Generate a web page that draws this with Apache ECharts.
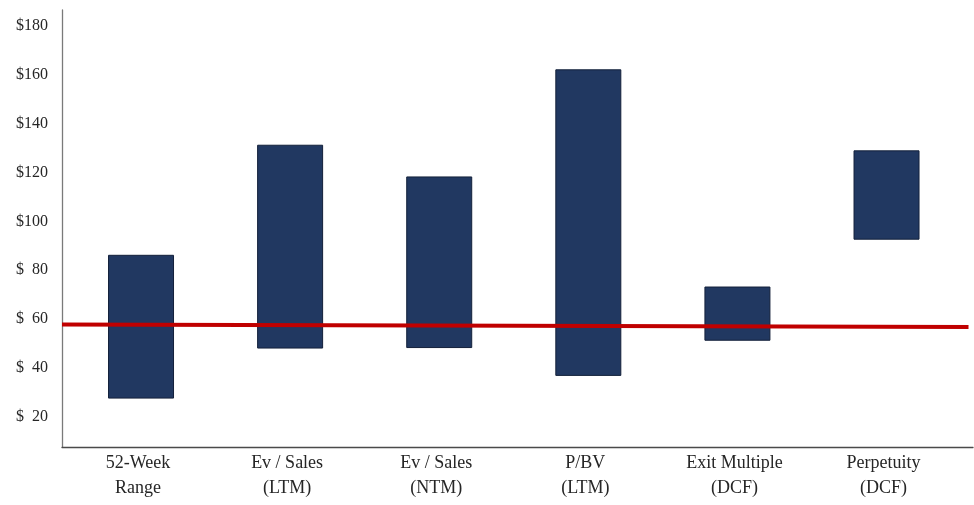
<!DOCTYPE html>
<html>
<head>
<meta charset="utf-8">
<script src="https://cdn.jsdelivr.net/npm/echarts@6/dist/echarts.min.js"></script>
<style>
  html, body { margin: 0; padding: 0; background: #ffffff; }
  #chart { width: 974px; height: 505px; }
</style>
</head>
<body>
<div id="chart"></div>
<script>
// Valuation ranges (football field)
const categories = ['52-Week\nRange', 'Ev / Sales\n(LTM)', 'Ev / Sales\n(NTM)', 'P/BV\n(LTM)', 'Exit Multiple\n(DCF)', 'Perpetuity\n(DCF)'];
const lows  = [27.6, 48.1, 48.3, 36.9, 51.3, 92.7];
const highs = [86.1, 131.2, 118.2, 162.1, 73.1, 128.9];
// Current share price reference line (start / end)
const priceLine = [57.7, 56.75];
const yTicks = [20, 40, 60, 80, 100, 120, 140, 160, 180];

const FONT = '"Liberation Serif", "DejaVu Serif", serif';
const xMin = -0.53, xMax = 5.58, yMin = 7.56, yMax = 186.6;
const BAR_WIDTH = 65;

const chart = echarts.init(document.getElementById('chart'), null, { renderer: 'canvas' });

const idx = categories.map((_, i) => i);

// Floating bar from low to high for each method
function renderRange(params, api) {
  const x = api.value(0);
  const top = api.coord([x, api.value(2)]);
  const bottom = api.coord([x, api.value(1)]);
  return {
    type: 'rect',
    shape: {
      x: top[0] - BAR_WIDTH / 2,
      y: top[1],
      width: BAR_WIDTH,
      height: bottom[1] - top[1]
    },
    style: { fill: '#213861', stroke: '#13203a', lineWidth: 1 }
  };
}

chart.setOption({
  animation: false,
  backgroundColor: '#ffffff',
  grid: { left: 62, right: 1, top: 10, bottom: 58, containLabel: false },
  xAxis: {
    type: 'value',
    min: xMin,
    max: xMax,
    splitLine: { show: false },
    axisTick: { show: false },
    axisLine: { show: true, onZero: false, lineStyle: { color: '#4a4a4a', width: 1.3 } },
    axisLabel: {
      customValues: idx,
      formatter: v => categories[Math.round(v)] || '',
      fontFamily: FONT,
      fontSize: 18,
      lineHeight: 25,
      color: '#262626',
      margin: 4,
      padding: [0, 6, 0, 0]
    }
  },
  yAxis: {
    type: 'value',
    min: yMin,
    max: yMax,
    splitLine: { show: false },
    axisTick: { show: false },
    axisLine: { show: true, onZero: false, lineStyle: { color: '#7a7a7a', width: 1.3 } },
    axisLabel: {
      customValues: yTicks,
      margin: 14,
      formatter: v => '{s|$}{n|' + (v < 100 ? ' ' + v : v) + '}',
      rich: {
        s: { fontFamily: FONT, fontSize: 16, color: '#262626', width: 8 },
        n: { fontFamily: FONT, fontSize: 16, color: '#262626', width: 24, align: 'right' }
      }
    }
  },
  series: [
    {
      name: 'range',
      type: 'custom',
      renderItem: renderRange,
      encode: { x: 0, y: [1, 2] },
      data: idx.map(i => [i, lows[i], highs[i]])
    },
    {
      name: 'price',
      type: 'line',
      symbol: 'none',
      z: 5,
      lineStyle: { color: '#c00000', width: 4 },
      data: [[xMin, priceLine[0]], [5.55, priceLine[1]]]
    }
  ]
});
</script>
</body>
</html>
